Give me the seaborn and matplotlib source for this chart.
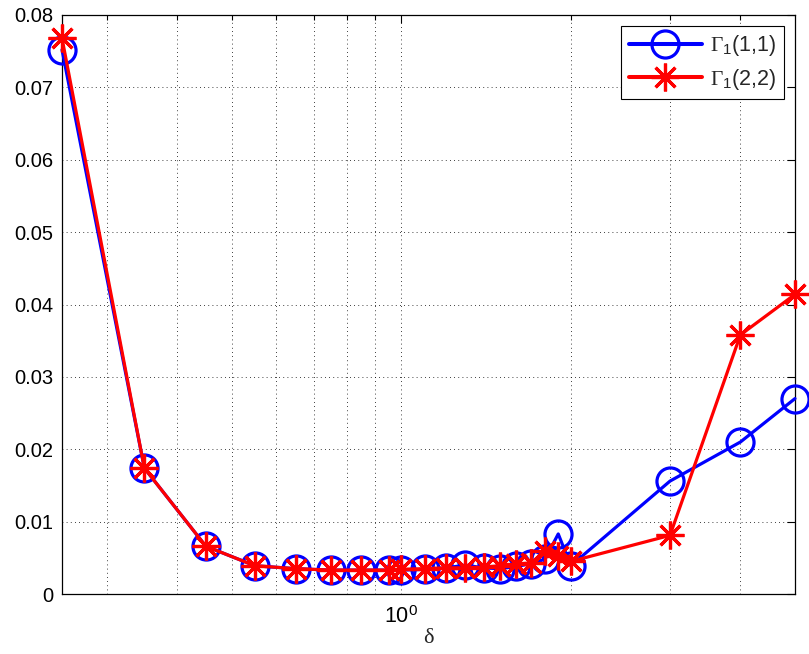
import numpy as np
import pandas as pd
import matplotlib
matplotlib.use("Agg")
import matplotlib.pyplot as plt
from matplotlib.ticker import FixedLocator, FixedFormatter, NullFormatter
import seaborn as sns

# Sampled delta values and the two diagonal entries of Gamma_1
delta = [0.25, 0.35, 0.45, 0.55, 0.65, 0.75, 0.85, 0.95, 1.0, 1.1, 1.2,
         1.3, 1.4, 1.5, 1.6, 1.7, 1.8, 1.9, 2.0, 3.0, 4.0, 5.0]
gamma11 = [0.0752, 0.0174, 0.0066, 0.0039, 0.0035, 0.0033, 0.0033, 0.0033,
           0.0033, 0.0034, 0.0036, 0.0040, 0.0036, 0.0035, 0.0038, 0.0042,
           0.0048, 0.0083, 0.0039, 0.0156, 0.0210, 0.0270]
gamma22 = [0.0768, 0.0174, 0.0066, 0.0039, 0.0035, 0.0033, 0.0033, 0.0033,
           0.0034, 0.0035, 0.0036, 0.0036, 0.0037, 0.0039, 0.0041, 0.0043,
           0.0059, 0.0052, 0.0045, 0.0081, 0.0358, 0.0414]

labels = [r"$\Gamma_{\mathsf{1}}$(1,1)", r"$\Gamma_{\mathsf{1}}$(2,2)"]
y_ticks = [0, 0.01, 0.02, 0.03, 0.04, 0.05, 0.06, 0.07, 0.08]
y_ticklabels = ["0", "0.01", "0.02", "0.03", "0.04", "0.05", "0.06", "0.07", "0.08"]
x_major = [1.0]
x_major_labels = [r"$\mathsf{10}^{\mathsf{0}}$"]
x_minor = [0.3, 0.4, 0.5, 0.6, 0.7, 0.8, 0.9, 2, 3, 4]

sns.set_style("white")
plt.rcParams["font.family"] = ["Liberation Sans", "DejaVu Sans"]
plt.rcParams["mathtext.fontset"] = "custom"
plt.rcParams["mathtext.rm"] = "Liberation Serif"
plt.rcParams["mathtext.it"] = "Liberation Serif:italic"
plt.rcParams["mathtext.sf"] = "Liberation Sans"

df = pd.DataFrame({"delta": delta, "g11": gamma11, "g22": gamma22})

fig = plt.figure(figsize=(8.09, 6.54), dpi=100)
ax = fig.add_axes([62 / 809, (654 - 594) / 654, (795 - 62) / 809, (594 - 15) / 654])

lw = 2.3
sns.lineplot(data=df, x="delta", y="g11", ax=ax, color="#0000ff", linewidth=lw,
             marker="o", markersize=19.5, markerfacecolor="none",
             markeredgecolor="#0000ff", markeredgewidth=lw, label=labels[0],
             clip_on=False, zorder=3)
sns.lineplot(data=df, x="delta", y="g22", ax=ax, color="#ff0000", linewidth=lw,
             marker=(8, 2, 0), markersize=20, markeredgecolor="#ff0000",
             markeredgewidth=lw, label=labels[1], clip_on=False, zorder=4)

ax.set_xscale("log")
ax.set_xlim(0.25, 5.0)
ax.set_ylim(0, 0.08)

ax.xaxis.set_major_locator(FixedLocator(x_major))
ax.xaxis.set_major_formatter(FixedFormatter(x_major_labels))
ax.xaxis.set_minor_locator(FixedLocator(x_minor))
ax.xaxis.set_minor_formatter(NullFormatter())
ax.yaxis.set_major_locator(FixedLocator(y_ticks))
ax.yaxis.set_major_formatter(FixedFormatter(y_ticklabels))

ax.tick_params(axis="both", which="both", direction="in", top=True, right=True,
               labelsize=14.5, colors="black", width=0.8)
ax.tick_params(axis="both", which="major", length=6, pad=6)
ax.tick_params(axis="x", which="minor", length=3.5)
ax.tick_params(axis="x", which="major", pad=9, labelsize=15.5)

grid_kw = dict(color="black", linestyle=(0, (1, 4)), linewidth=0.6)
ax.grid(True, which="major", axis="both", **grid_kw)
ax.grid(True, which="minor", axis="x", **grid_kw)

for s in ax.spines.values():
    s.set_visible(True)
    s.set_color("black")
    s.set_linewidth(0.9)

ax.set_xlabel("δ", fontsize=16, family=["Liberation Serif"], labelpad=1)
ax.set_ylabel("")

leg = ax.legend(loc="upper right", fontsize=15.5, frameon=True, fancybox=False,
                edgecolor="black", framealpha=1, borderpad=0.35,
                handlelength=3.4, handletextpad=0.4, labelspacing=0.4,
                borderaxespad=0.5)
leg.get_frame().set_linewidth(0.8)
for h in leg.legend_handles:
    h.set_linewidth(lw + 0.6)

fig.savefig("out.png", dpi=100)
